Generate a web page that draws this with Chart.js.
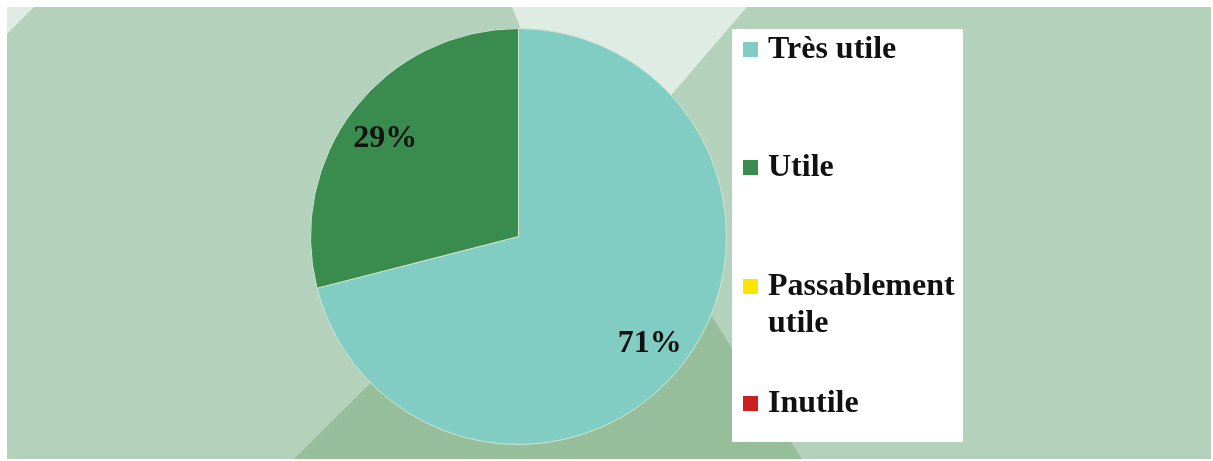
<!DOCTYPE html>
<html>
<head>
<meta charset="utf-8">
<script src="https://cdn.jsdelivr.net/npm/chart.js@4/dist/chart.umd.min.js"></script>
<style>
    html, body { margin: 0; padding: 0; background: #ffffff; }
    #wrap { width: 1213px; height: 461px; }
</style>
</head>
<body>
<div id="wrap"><canvas id="pieChart" width="1213" height="461"></canvas></div>
<script>
const categories = ["Très utile", "Utile", "Passablement utile", "Inutile"];
const values = [71, 29, 0, 0];
const sliceColors = ["#82cdc3", "#3a8c4e", "#ffe600", "#cc1f1f"];

const SERIF = '"Liberation Serif", "DejaVu Serif", serif';

// background panel with the soft green triangles
const backdrop = {
    id: "backdrop",
    beforeDraw(chart) {
        const ctx = chart.ctx;
        ctx.save();
        ctx.fillStyle = "#ffffff";
        ctx.fillRect(0, 0, chart.width, chart.height);
        ctx.fillStyle = "#b3d1bb";
        ctx.fillRect(7, 7, 1204, 452);

        const poly = (pts, color) => {
            ctx.beginPath();
            ctx.moveTo(pts[0][0], pts[0][1]);
            for (const p of pts.slice(1)) ctx.lineTo(p[0], p[1]);
            ctx.closePath();
            ctx.fillStyle = color;
            ctx.fill();
        };
        poly([[7, 7], [34, 7], [7, 34]], "#dfece3");
        poly([[512, 7], [747, 7], [587, 193]], "#dfece3");
        poly([[294, 459], [606, 149], [802, 459]], "#96be9b");
        ctx.restore();
    }
};

// percentage labels inside the slices
const sliceLabels = {
    id: "sliceLabels",
    afterDatasetsDraw(chart) {
        const ctx = chart.ctx;
        const total = values.reduce((a, b) => a + b, 0);
        ctx.save();
        ctx.font = `bold 32px ${SERIF}`;
        ctx.fillStyle = "#111111";
        ctx.textAlign = "center";
        ctx.textBaseline = "middle";
        chart.getDatasetMeta(0).data.forEach((arc, i) => {
            if (!values[i]) return;
            const mid = (arc.startAngle + arc.endAngle) / 2;
            const r = arc.outerRadius * 0.805;
            const pct = Math.round(values[i] / total * 100) + "%";
            ctx.fillText(pct, arc.x + Math.cos(mid) * r - 1, arc.y + Math.sin(mid) * r + 5);
        });
        ctx.restore();
    }
};

// legend in a white box on the right, one item every ~118px
const boxLegend = {
    id: "boxLegend",
    afterDraw(chart) {
        const ctx = chart.ctx;
        const box = { x: 732, y: 29, w: 231, h: 413 };
        ctx.save();
        ctx.fillStyle = "#ffffff";
        ctx.fillRect(box.x, box.y, box.w, box.h);

        ctx.font = `bold 32px ${SERIF}`;
        ctx.textAlign = "left";
        ctx.textBaseline = "alphabetic";
        const textX = 768;
        const maxW = box.x + box.w - textX;
        const baselines = [58, 176, 295, 412];

        chart.data.labels.forEach((label, i) => {
            const base = baselines[i];
            ctx.fillStyle = chart.data.datasets[0].backgroundColor[i];
            ctx.fillRect(743, base - 16, 15, 15);

            // wrap long labels
            const words = label.split(" ");
            const lines = [];
            let line = "";
            for (const w of words) {
                const test = line ? line + " " + w : w;
                if (line && ctx.measureText(test).width > maxW) {
                    lines.push(line);
                    line = w;
                } else {
                    line = test;
                }
            }
            lines.push(line);

            ctx.fillStyle = "#111111";
            lines.forEach((l, k) => ctx.fillText(l, textX, base + k * 37));
        });
        ctx.restore();
    }
};

new Chart(document.getElementById("pieChart"), {
    type: "pie",
    data: {
        labels: categories,
        datasets: [{
            data: values,
            backgroundColor: sliceColors,
            borderColor: "#cfe4d4",
            borderWidth: 1
        }]
    },
    options: {
        responsive: false,
        animation: false,
        layout: {
            padding: { left: 310, right: 486, top: 28, bottom: 16 }
        },
        plugins: {
            legend: { display: false },
            tooltip: { enabled: false }
        }
    },
    plugins: [backdrop, sliceLabels, boxLegend]
});
</script>
</body>
</html>
